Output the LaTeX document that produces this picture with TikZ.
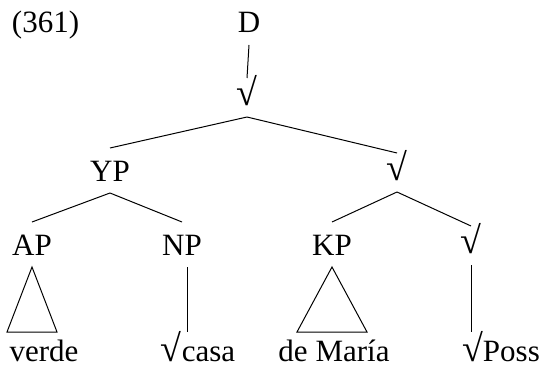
\documentclass[tikz,border=0pt]{standalone}
\usepackage{fontspec}
\setmainfont{Liberation Serif}
\usepackage{tikz}
\usetikzlibrary{calc,positioning}
\newcommand{\rtsign}{{\fontsize{38}{38}\selectfont √}}

\begin{document}
\begin{tikzpicture}[x=1pt,y=-1pt,line width=1pt,
  cat/.style={font=\fontsize{31}{31}\selectfont, inner sep=0pt, outer xsep=0pt,
              outer ysep=12pt, text height=21pt, text depth=0pt, anchor=base},
  rootcat/.style={cat, text height=15pt},
  leaf/.style={cat, outer ysep=8pt}]
\useasboundingbox (0,0) rectangle (541,369);

% example number
\node[cat, anchor=base west] (exnum) at (12,33) {(361)};

% categories
\node[cat] (D) at (249,33) {D};
\node[rootcat] (R1) at (247,105) {\rtsign};
\node[cat] (YP) at (110,181) {YP};
\node[rootcat] (R2) at (397,180) {\rtsign};
\node[cat] (AP) at (32,255) {AP};
\node[cat] (NP) at (182,255) {NP};
\node[cat] (KP) at (332,255) {KP};
\node[rootcat] (R3) at (471,253) {\rtsign};

% terminals
\node[leaf] (verde) at (44,361) {verde};
\node[leaf] (casa) at (198,361) {\rtsign casa};
\node[leaf] (maria) at (334,361) {de María};
\node[leaf] (poss) at (501,361) {\rtsign Poss};

% branches
\draw (D.south) -- (R1.north);
\draw (R1.south) -- (YP.north);
\draw (R1.south) -- (R2.north);
\draw (YP.south) -- (AP.north);
\draw (YP.south) -- (NP.north);
\draw (R2.south) -- (KP.north);
\draw (R2.south) -- (R3.north);

% roofs
\draw (AP.south) -- ($(AP.south |- verde.north)+(-25,0)$)
      -- ($(AP.south |- verde.north)+(25,0)$) -- cycle;
\draw (KP.south) -- ($(KP.south |- maria.north)+(-35,0)$)
      -- ($(KP.south |- maria.north)+(35,0)$) -- cycle;

\draw ($(NP.south)+(5,0)$) -- ($(NP.south |- casa.north)+(5,0)$);
\draw (R3.south) -- (R3.south |- poss.north);
\end{tikzpicture}
\end{document}
